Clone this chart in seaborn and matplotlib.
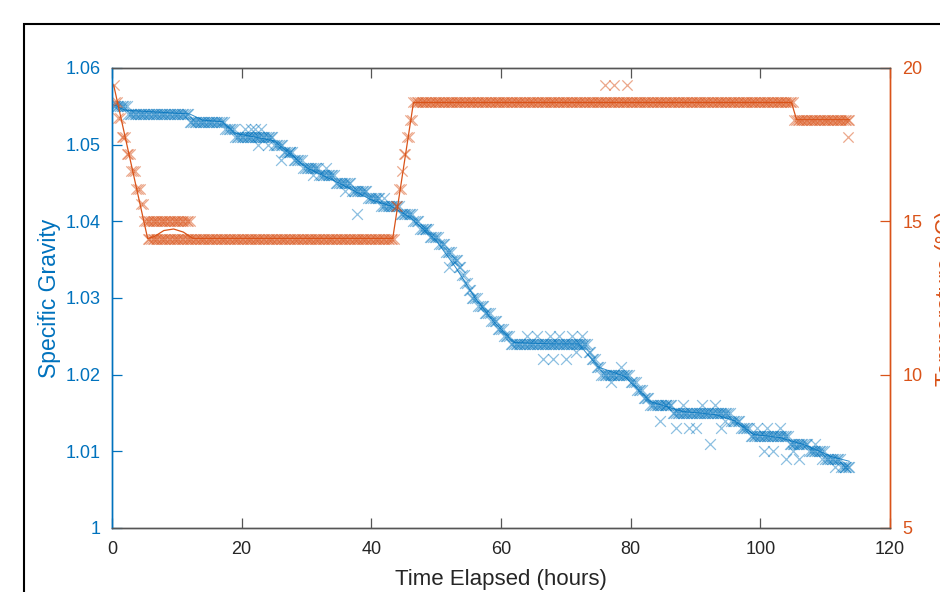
import numpy as np
import pandas as pd
import matplotlib
matplotlib.use("Agg")
import matplotlib.pyplot as plt
import seaborn as sns
from matplotlib.patches import Rectangle

# ---------------- data ----------------
# logging times (hours)
sample_hours = np.arange(0.25, 114.0, 0.25)

# specific gravity readings: level held from each start hour onward
sg_levels = [1.055, 1.054, 1.053, 1.052, 1.051, 1.050, 1.049, 1.048, 1.047, 1.046,
             1.045, 1.044, 1.043, 1.042, 1.041, 1.040, 1.039, 1.038, 1.037, 1.036,
             1.035, 1.034, 1.033, 1.032, 1.031, 1.030, 1.029, 1.028, 1.027, 1.026,
             1.025, 1.024, 1.023, 1.022, 1.021, 1.020, 1.019, 1.018, 1.017, 1.016,
             1.015, 1.014, 1.013, 1.012, 1.011, 1.010, 1.009, 1.008]
sg_starts = [0.0, 2.5, 12.0, 17.5, 19.0, 25.0, 26.5, 28.0, 29.5, 32.0,
             34.5, 37.0, 39.5, 41.5, 44.5, 46.5, 47.5, 49.0, 50.5, 51.5,
             52.5, 53.5, 54.0, 54.5, 55.0, 55.5, 56.5, 57.5, 58.5, 59.5,
             60.5, 61.5, 73.5, 74.0, 74.75, 75.5, 80.0, 81.0, 82.0, 83.0,
             86.5, 95.5, 97.0, 98.5, 104.5, 107.5, 110.0, 112.5]

# scattered specific-gravity readings off the main band
sg_extra_hours = [20.5, 21.5, 22.0, 22.5, 23.0, 24.0, 26.0, 27.5, 31.0, 33.0,
                  36.0, 37.75, 42.0, 48.5, 52.0, 64.0, 65.5, 66.5, 67.5, 68.0,
                  69.0, 70.0, 71.0, 71.5, 72.5, 77.0, 78.5, 84.5, 85.5, 87.0,
                  88.0, 89.0, 90.0, 91.0, 92.25, 93.0, 94.0, 94.5, 99.5, 100.5,
                  101.0, 102.0, 103.0, 104.0, 105.0, 106.0, 108.5, 109.5, 111.5, 113.0]
sg_extra_values = [1.052, 1.052, 1.052, 1.050, 1.052, 1.050, 1.048, 1.049, 1.046, 1.047,
                   1.044, 1.041, 1.043, 1.039, 1.034, 1.025, 1.025, 1.022, 1.025, 1.022,
                   1.025, 1.022, 1.025, 1.023, 1.025, 1.019, 1.021, 1.014, 1.016, 1.013,
                   1.016, 1.013, 1.013, 1.016, 1.011, 1.016, 1.013, 1.014, 1.013, 1.010,
                   1.013, 1.010, 1.013, 1.009, 1.010, 1.009, 1.011, 1.009, 1.008, 1.008]

# specific gravity fitted curve
sg_fit_hours = [0.3, 2.0, 12.0, 14.0, 17.0, 19.0, 22.0, 25.0, 30.0, 35.0, 40.0, 43.0,
                46.0, 50.0, 53.0, 56.0, 59.0, 62.0, 68.0, 72.0, 75.0, 79.0, 83.0, 88.0,
                93.0, 96.0, 99.0, 103.0, 107.0, 111.0, 113.75]
sg_fit_values = [1.0552, 1.0545, 1.0540, 1.0532, 1.0530, 1.0515, 1.0510, 1.0505, 1.0470,
                 1.0450, 1.0428, 1.0420, 1.0405, 1.0375, 1.0340, 1.0300, 1.0268, 1.0242,
                 1.0240, 1.0240, 1.0210, 1.0198, 1.0165, 1.0152, 1.0148, 1.0140, 1.0122,
                 1.0118, 1.0108, 1.0093, 1.0087]

# temperature readings (deg C): level held from each start hour onward
temp_levels = [19.4375, 18.875, 18.375, 17.75, 17.1875, 16.625, 16.0625, 15.5625, 15.0,
               14.4375, 15.5, 16.0625, 16.625, 17.1875, 17.75, 18.3125, 18.875, 18.3125]
temp_starts = [0.0, 0.4, 0.9, 1.5, 2.25, 3.0, 3.75, 4.4, 5.0,
               5.5, 43.75, 44.25, 44.75, 45.0, 45.5, 46.0, 46.5, 105.25]

# alternate reading level during early plateau
temp_alt_level = 15.0
temp_alt_from = 5.5
temp_alt_to = 12.0

# isolated temperature readings
temp_extra_hours = [76.0, 77.5, 79.5, 113.5]
temp_extra_values = [19.4375, 19.4375, 19.4375, 17.75]

# temperature fitted curve
temp_fit_hours = [0.25, 5.5, 6.5, 8.0, 9.5, 11.0, 12.5, 43.3, 46.5, 104.8, 105.6, 113.75]
temp_fit_values = [19.45, 14.44, 14.5, 14.7, 14.75, 14.65, 14.44, 14.44, 18.875, 18.875,
                   18.3125, 18.3125]

x_ticks = [0, 20, 40, 60, 80, 100, 120]
sg_ticks = [1.0, 1.01, 1.02, 1.03, 1.04, 1.05, 1.06]
sg_tick_labels = ['1', '1.01', '1.02', '1.03', '1.04', '1.05', '1.06']
temp_ticks = [5, 10, 15, 20]

# ---------------- build tables ----------------
hours = sample_hours
sg_main = np.array(sg_levels)[np.searchsorted(sg_starts, hours, side='right') - 1]
temp_main = np.array(temp_levels)[np.searchsorted(temp_starts, hours, side='right') - 1]
alt_hours = hours[(hours >= temp_alt_from) & (hours <= temp_alt_to)]

sg_df = pd.DataFrame({
    'hours': np.concatenate([hours, sg_extra_hours]),
    'sg': np.concatenate([sg_main, sg_extra_values]),
})
temp_df = pd.DataFrame({
    'hours': np.concatenate([hours, alt_hours, temp_extra_hours]),
    'temp': np.concatenate([temp_main, np.full(len(alt_hours), temp_alt_level),
                            temp_extra_values]),
})

# ---------------- style ----------------
sns.set_style("white")
plt.rcParams['font.family'] = ['Liberation Sans', 'DejaVu Sans']

blue = '#0072BD'
orange = '#D95319'
axis_gray = '#262626'

fig = plt.figure(figsize=(9.4, 5.92), dpi=100)
ax = fig.add_axes([112 / 940, 64 / 592, 778 / 940, 460 / 592])
ax2 = ax.twinx()

sns.scatterplot(data=sg_df, x='hours', y='sg', marker='x', color=blue, s=60,
                linewidth=0.9, alpha=0.45, ax=ax, legend=False)
sns.lineplot(x=sg_fit_hours, y=sg_fit_values, color=blue, linewidth=0.7, alpha=0.8,
             ax=ax, sort=False, estimator=None)

sns.scatterplot(data=temp_df, x='hours', y='temp', marker='x', color=orange, s=55,
                linewidth=0.9, alpha=0.5, ax=ax2, legend=False)
sns.lineplot(x=temp_fit_hours, y=temp_fit_values, color=orange, linewidth=0.9, ax=ax2,
             sort=False, estimator=None)

ax.set_xlim(0, 120)
ax.set_ylim(1.0, 1.06)
ax2.set_ylim(5, 20)
ax.set_xticks(x_ticks)
ax.set_xticklabels([str(t) for t in x_ticks])
ax.set_yticks(sg_ticks)
ax.set_yticklabels(sg_tick_labels)
ax2.set_yticks(temp_ticks)
ax2.set_yticklabels([str(t) for t in temp_ticks])

for a in (ax, ax2):
    a.grid(False)
    a.spines['left'].set_color(blue)
    a.spines['right'].set_color(orange)
    a.spines['top'].set_color('#555555')
    a.spines['bottom'].set_color('#555555')
    for s in a.spines.values():
        s.set_linewidth(1.0)
        s.set_visible(True)

ax.tick_params(axis='x', direction='in', length=7, width=0.9, color='#555555',
               labelcolor=axis_gray, labelsize=13, pad=9, top=True, bottom=True)
ax.tick_params(axis='y', direction='in', length=7, width=0.9, color=blue,
               labelcolor=blue, labelsize=13, pad=8, left=True, right=False)
ax2.tick_params(axis='y', direction='in', length=7, width=0.9, color=orange,
                labelcolor=orange, labelsize=13, pad=9, right=True, left=False)

ax.set_xlabel('Time Elapsed (hours)', fontsize=16, color=axis_gray)
ax.xaxis.set_label_coords(0.5, -0.09)
ax.set_ylabel('Specific Gravity', fontsize=16.5, color=blue)
ax.yaxis.set_label_coords(-0.066, 0.5)
ax2.set_ylabel('Temperature (°C)', fontsize=16.5, color=orange, rotation=90)
ax2.yaxis.set_label_coords((935 - 112) / 778, 0.5)

# outer frame of the figure window (cropped)
fig.patches.append(Rectangle((24 / 940, -0.5), 2.0, 0.5 + (1 - 24 / 592),
                             transform=fig.transFigure, fill=False,
                             edgecolor='black', linewidth=1.5))

fig.savefig('out.png', dpi=100)
